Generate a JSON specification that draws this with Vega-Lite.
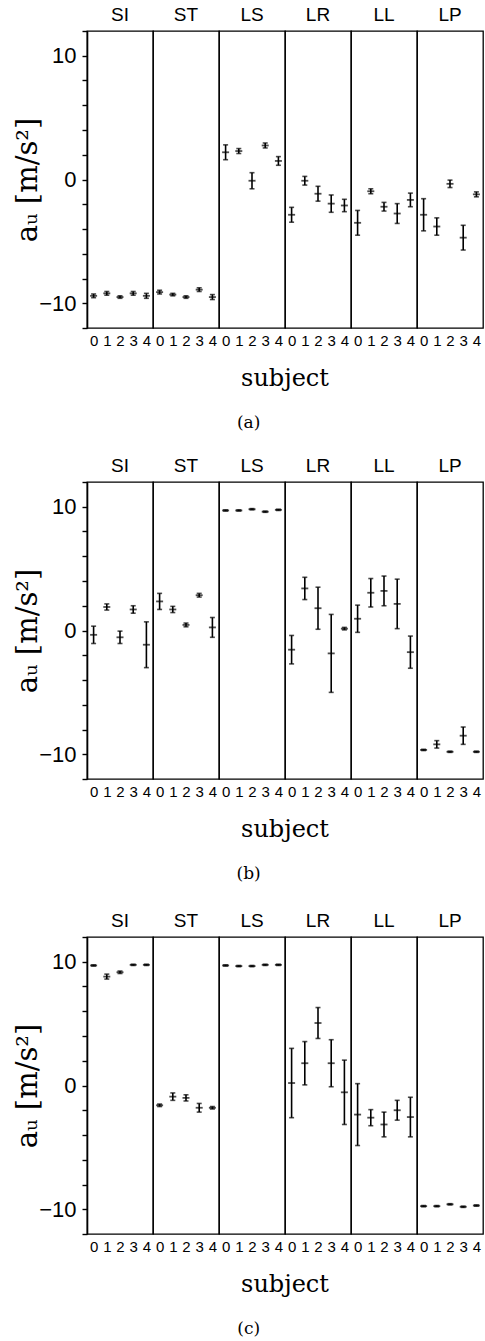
{
  "$schema": "https://vega.github.io/schema/vega-lite/v6.json",
  "padding": {"left": 13, "top": 6, "right": 2, "bottom": 0},
  "background": "white",
  "datasets": {
    "a": [
      {"g": "SI", "s": 0, "m": -9.4, "lo": -9.55, "hi": -9.25},
      {"g": "SI", "s": 1, "m": -9.2, "lo": -9.35, "hi": -9.05},
      {"g": "SI", "s": 2, "m": -9.5, "lo": -9.6, "hi": -9.4},
      {"g": "SI", "s": 3, "m": -9.2, "lo": -9.35, "hi": -9.05},
      {"g": "SI", "s": 4, "m": -9.4, "lo": -9.6, "hi": -9.2},
      {"g": "ST", "s": 0, "m": -9.1, "lo": -9.25, "hi": -8.95},
      {"g": "ST", "s": 1, "m": -9.3, "lo": -9.4, "hi": -9.2},
      {"g": "ST", "s": 2, "m": -9.5, "lo": -9.6, "hi": -9.4},
      {"g": "ST", "s": 3, "m": -8.9, "lo": -9.05, "hi": -8.75},
      {"g": "ST", "s": 4, "m": -9.5, "lo": -9.7, "hi": -9.3},
      {"g": "LS", "s": 0, "m": 2.2, "lo": 1.6, "hi": 2.8},
      {"g": "LS", "s": 1, "m": 2.3, "lo": 2.1, "hi": 2.5},
      {"g": "LS", "s": 2, "m": -0.1, "lo": -0.75, "hi": 0.55},
      {"g": "LS", "s": 3, "m": 2.75, "lo": 2.55, "hi": 2.95},
      {"g": "LS", "s": 4, "m": 1.5, "lo": 1.15, "hi": 1.85},
      {"g": "LR", "s": 0, "m": -2.85, "lo": -3.45, "hi": -2.25},
      {"g": "LR", "s": 1, "m": -0.1, "lo": -0.45, "hi": 0.25},
      {"g": "LR", "s": 2, "m": -1.15, "lo": -1.75, "hi": -0.55},
      {"g": "LR", "s": 3, "m": -1.95, "lo": -2.65, "hi": -1.25},
      {"g": "LR", "s": 4, "m": -2.1, "lo": -2.6, "hi": -1.6},
      {"g": "LL", "s": 0, "m": -3.5, "lo": -4.5, "hi": -2.5},
      {"g": "LL", "s": 1, "m": -0.95, "lo": -1.15, "hi": -0.75},
      {"g": "LL", "s": 2, "m": -2.2, "lo": -2.55, "hi": -1.85},
      {"g": "LL", "s": 3, "m": -2.75, "lo": -3.55, "hi": -1.95},
      {"g": "LL", "s": 4, "m": -1.65, "lo": -2.2, "hi": -1.1},
      {"g": "LP", "s": 0, "m": -2.85, "lo": -4.15, "hi": -1.55},
      {"g": "LP", "s": 1, "m": -3.8, "lo": -4.5, "hi": -3.1},
      {"g": "LP", "s": 2, "m": -0.35, "lo": -0.65, "hi": -0.05},
      {"g": "LP", "s": 3, "m": -4.7, "lo": -5.7, "hi": -3.7},
      {"g": "LP", "s": 4, "m": -1.2, "lo": -1.4, "hi": -1.0}
    ],
    "b": [
      {"g": "SI", "s": 0, "m": -0.35, "lo": -1.05, "hi": 0.35},
      {"g": "SI", "s": 1, "m": 1.9, "lo": 1.65, "hi": 2.15},
      {"g": "SI", "s": 2, "m": -0.55, "lo": -1.05, "hi": -0.05},
      {"g": "SI", "s": 3, "m": 1.7, "lo": 1.4, "hi": 2.0},
      {"g": "SI", "s": 4, "m": -1.15, "lo": -3.0, "hi": 0.7},
      {"g": "ST", "s": 0, "m": 2.35, "lo": 1.7, "hi": 3.0},
      {"g": "ST", "s": 1, "m": 1.7, "lo": 1.45, "hi": 1.95},
      {"g": "ST", "s": 2, "m": 0.45, "lo": 0.3, "hi": 0.6},
      {"g": "ST", "s": 3, "m": 2.85, "lo": 2.7, "hi": 3.0},
      {"g": "ST", "s": 4, "m": 0.25, "lo": -0.55, "hi": 1.05},
      {"g": "LS", "s": 0, "m": 9.7, "lo": 9.65, "hi": 9.75},
      {"g": "LS", "s": 1, "m": 9.7, "lo": 9.65, "hi": 9.75},
      {"g": "LS", "s": 2, "m": 9.8, "lo": 9.75, "hi": 9.85},
      {"g": "LS", "s": 3, "m": 9.6, "lo": 9.55, "hi": 9.65},
      {"g": "LS", "s": 4, "m": 9.75, "lo": 9.7, "hi": 9.8},
      {"g": "LR", "s": 0, "m": -1.55, "lo": -2.7, "hi": -0.4},
      {"g": "LR", "s": 1, "m": 3.4, "lo": 2.5, "hi": 4.3},
      {"g": "LR", "s": 2, "m": 1.8, "lo": 0.1, "hi": 3.5},
      {"g": "LR", "s": 3, "m": -1.85, "lo": -5.0, "hi": 1.3},
      {"g": "LR", "s": 4, "m": 0.15, "lo": 0.05, "hi": 0.25},
      {"g": "LL", "s": 0, "m": 0.95, "lo": -0.15, "hi": 2.05},
      {"g": "LL", "s": 1, "m": 3.05, "lo": 1.9, "hi": 4.2},
      {"g": "LL", "s": 2, "m": 3.2, "lo": 2.0, "hi": 4.4},
      {"g": "LL", "s": 3, "m": 2.15, "lo": 0.15, "hi": 4.15},
      {"g": "LL", "s": 4, "m": -1.75, "lo": -3.05, "hi": -0.45},
      {"g": "LP", "s": 0, "m": -9.65, "lo": -9.7, "hi": -9.6},
      {"g": "LP", "s": 1, "m": -9.2, "lo": -9.5, "hi": -8.9},
      {"g": "LP", "s": 2, "m": -9.8, "lo": -9.85, "hi": -9.75},
      {"g": "LP", "s": 3, "m": -8.5, "lo": -9.2, "hi": -7.8},
      {"g": "LP", "s": 4, "m": -9.8, "lo": -9.85, "hi": -9.75}
    ],
    "c": [
      {"g": "SI", "s": 0, "m": 9.7, "lo": 9.65, "hi": 9.75},
      {"g": "SI", "s": 1, "m": 8.8, "lo": 8.6, "hi": 9.0},
      {"g": "SI", "s": 2, "m": 9.15, "lo": 9.05, "hi": 9.25},
      {"g": "SI", "s": 3, "m": 9.75, "lo": 9.7, "hi": 9.8},
      {"g": "SI", "s": 4, "m": 9.75, "lo": 9.7, "hi": 9.8},
      {"g": "ST", "s": 0, "m": -1.6, "lo": -1.7, "hi": -1.5},
      {"g": "ST", "s": 1, "m": -0.9, "lo": -1.2, "hi": -0.6},
      {"g": "ST", "s": 2, "m": -1.0, "lo": -1.25, "hi": -0.75},
      {"g": "ST", "s": 3, "m": -1.8, "lo": -2.15, "hi": -1.45},
      {"g": "ST", "s": 4, "m": -1.8, "lo": -1.9, "hi": -1.7},
      {"g": "LS", "s": 0, "m": 9.7, "lo": 9.65, "hi": 9.75},
      {"g": "LS", "s": 1, "m": 9.65, "lo": 9.6, "hi": 9.7},
      {"g": "LS", "s": 2, "m": 9.65, "lo": 9.6, "hi": 9.7},
      {"g": "LS", "s": 3, "m": 9.75, "lo": 9.7, "hi": 9.8},
      {"g": "LS", "s": 4, "m": 9.75, "lo": 9.7, "hi": 9.8},
      {"g": "LR", "s": 0, "m": 0.2, "lo": -2.6, "hi": 3.0},
      {"g": "LR", "s": 1, "m": 1.8, "lo": 0.05, "hi": 3.55},
      {"g": "LR", "s": 2, "m": 5.05, "lo": 3.8, "hi": 6.3},
      {"g": "LR", "s": 3, "m": 1.8, "lo": -0.1, "hi": 3.7},
      {"g": "LR", "s": 4, "m": -0.55, "lo": -3.15, "hi": 2.05},
      {"g": "LL", "s": 0, "m": -2.35, "lo": -4.85, "hi": 0.15},
      {"g": "LL", "s": 1, "m": -2.6, "lo": -3.25, "hi": -1.95},
      {"g": "LL", "s": 2, "m": -3.15, "lo": -4.15, "hi": -2.15},
      {"g": "LL", "s": 3, "m": -2.0, "lo": -2.8, "hi": -1.2},
      {"g": "LL", "s": 4, "m": -2.55, "lo": -4.15, "hi": -0.95},
      {"g": "LP", "s": 0, "m": -9.75, "lo": -9.8, "hi": -9.7},
      {"g": "LP", "s": 1, "m": -9.75, "lo": -9.8, "hi": -9.7},
      {"g": "LP", "s": 2, "m": -9.6, "lo": -9.65, "hi": -9.55},
      {"g": "LP", "s": 3, "m": -9.8, "lo": -9.85, "hi": -9.75},
      {"g": "LP", "s": 4, "m": -9.7, "lo": -9.75, "hi": -9.65}
    ]
  },
  "vconcat": [
    {
      "data": {"name": "a"},
      "title": {"text": "(a)"},
      "facet": {"column": {"field": "g", "type": "nominal", "sort": ["SI", "ST", "LS", "LR", "LL", "LP"], "title": "subject"}},
      "spacing": 0,
      "bounds": "flush",
      "spec": {
        "width": 66, "height": 297,
        "encoding": {
          "x": {"field": "s", "type": "ordinal", "title": null, "scale": {"type": "point", "padding": 0.5}}
        },
        "layer": [
          {"mark": {"type": "rule", "strokeWidth": 1.6, "color": "black"}, "encoding": {"y": {"field": "lo", "type": "quantitative", "title": "aᵤ [m/s²]", "scale": {"domain": [-12, 12], "nice": false}}, "y2": {"field": "hi"}}},
          {"mark": {"type": "tick", "thickness": 1.6, "size": 5, "color": "black"}, "encoding": {"y": {"field": "lo", "type": "quantitative", "title": "aᵤ [m/s²]"}}},
          {"mark": {"type": "tick", "thickness": 1.6, "size": 5, "color": "black"}, "encoding": {"y": {"field": "hi", "type": "quantitative", "title": "aᵤ [m/s²]"}}},
          {"mark": {"type": "tick", "thickness": 1.8, "size": 7, "color": "black"}, "encoding": {"y": {"field": "m", "type": "quantitative", "title": "aᵤ [m/s²]"}}}
        ]
      }
    },
    {
      "spacing": 30,
      "vconcat": [
        {
          "data": {"name": "b"},
          "title": {"text": "(b)"},
          "facet": {"column": {"field": "g", "type": "nominal", "sort": ["SI", "ST", "LS", "LR", "LL", "LP"], "title": "subject"}},
          "spacing": 0,
          "bounds": "flush",
          "spec": {
            "width": 66, "height": 297,
            "encoding": {
              "x": {"field": "s", "type": "ordinal", "title": null, "scale": {"type": "point", "padding": 0.5}}
            },
            "layer": [
              {"mark": {"type": "rule", "strokeWidth": 1.6, "color": "black"}, "encoding": {"y": {"field": "lo", "type": "quantitative", "title": "aᵤ [m/s²]", "scale": {"domain": [-12, 12], "nice": false}}, "y2": {"field": "hi"}}},
              {"mark": {"type": "tick", "thickness": 1.6, "size": 5, "color": "black"}, "encoding": {"y": {"field": "lo", "type": "quantitative", "title": "aᵤ [m/s²]"}}},
              {"mark": {"type": "tick", "thickness": 1.6, "size": 5, "color": "black"}, "encoding": {"y": {"field": "hi", "type": "quantitative", "title": "aᵤ [m/s²]"}}},
              {"mark": {"type": "tick", "thickness": 1.8, "size": 7, "color": "black"}, "encoding": {"y": {"field": "m", "type": "quantitative", "title": "aᵤ [m/s²]"}}}
            ]
          }
        },
        {
          "data": {"name": "c"},
          "title": {"text": "(c)"},
          "facet": {"column": {"field": "g", "type": "nominal", "sort": ["SI", "ST", "LS", "LR", "LL", "LP"], "title": "subject"}},
          "spacing": 0,
          "bounds": "flush",
          "spec": {
            "width": 66, "height": 297,
            "encoding": {
              "x": {"field": "s", "type": "ordinal", "title": null, "scale": {"type": "point", "padding": 0.5}}
            },
            "layer": [
              {"mark": {"type": "rule", "strokeWidth": 1.6, "color": "black"}, "encoding": {"y": {"field": "lo", "type": "quantitative", "title": "aᵤ [m/s²]", "scale": {"domain": [-12, 12], "nice": false}}, "y2": {"field": "hi"}}},
              {"mark": {"type": "tick", "thickness": 1.6, "size": 5, "color": "black"}, "encoding": {"y": {"field": "lo", "type": "quantitative", "title": "aᵤ [m/s²]"}}},
              {"mark": {"type": "tick", "thickness": 1.6, "size": 5, "color": "black"}, "encoding": {"y": {"field": "hi", "type": "quantitative", "title": "aᵤ [m/s²]"}}},
              {"mark": {"type": "tick", "thickness": 1.8, "size": 7, "color": "black"}, "encoding": {"y": {"field": "m", "type": "quantitative", "title": "aᵤ [m/s²]"}}}
            ]
          }
        }
      ]
    }
  ],
  "spacing": 26,
  "config": {
    "view": {"stroke": "black", "strokeWidth": 1.3},
    "axis": {"grid": false, "labelFont": "Liberation Sans", "labelColor": "black", "domainColor": "black", "tickColor": "black", "titleColor": "black"},
    "axisY": {"values": [-10, -8, -6, -4, -2, 0, 2, 4, 6, 8, 10], "labelExpr": "datum.value % 10 === 0 ? datum.label : ''", "labelFontSize": 22, "tickSize": 5, "tickWidth": 1.4, "domainWidth": 1.6, "labelPadding": 6, "titleFont": "DejaVu Serif", "titleFontSize": 29, "titleFontWeight": "normal", "titlePadding": -4},
    "axisX": {"labelFontSize": 15, "labelAngle": 0, "ticks": false, "domain": false, "labelPadding": 5},
    "header": {"labelFont": "Liberation Sans", "labelFontSize": 19, "labelColor": "black", "labelOrient": "top", "labelPadding": 6, "titleOrient": "bottom", "titleFont": "DejaVu Serif", "titleFontSize": 24, "titleFontWeight": "normal", "titleColor": "black", "titlePadding": 9},
    "title": {"orient": "bottom", "font": "DejaVu Serif", "fontSize": 17, "fontWeight": "normal", "color": "black", "offset": 24, "anchor": "middle"}
  }
}
